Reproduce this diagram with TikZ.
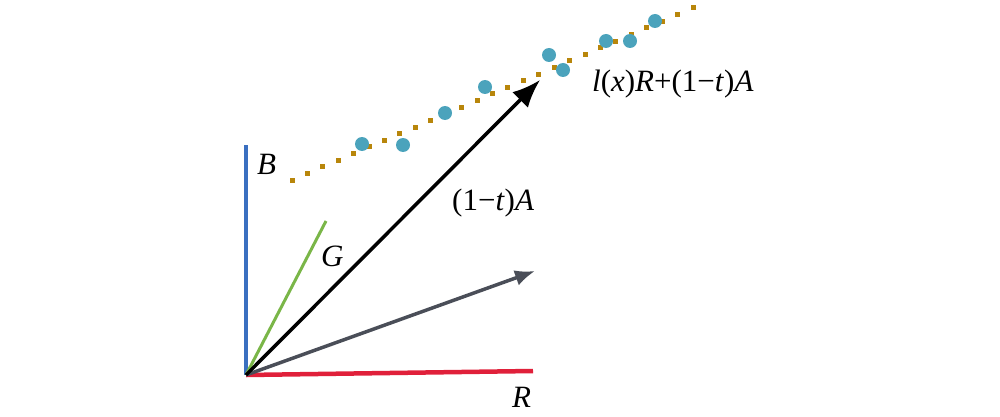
\documentclass[tikz,border=0pt]{standalone}
\usepackage{fontspec}
\setmainfont{Liberation Serif}
\usetikzlibrary{arrows.meta,calc}
\definecolor{bblue}{HTML}{3A6FC0}
\definecolor{rred}{HTML}{E0203A}
\definecolor{ggreen}{HTML}{7AB648}
\definecolor{ggray}{HTML}{4A4E58}
\definecolor{dbrown}{HTML}{B8860B}
\definecolor{tteal}{HTML}{4BA3BC}
\tikzset{
  lbl/.style={font=\fontsize{31}{34}\selectfont\itshape, inner sep=0pt},
  lblup/.style={font=\fontsize{31}{34}\selectfont, inner sep=0pt},
  axis/.style={line width=3.5pt},
  tealdot/.style={circle, fill=tteal, inner sep=0pt, minimum size=14pt},
  browndot/.style={rectangle, fill=dbrown, inner sep=0pt, minimum size=5pt}
}
\begin{document}
\begin{tikzpicture}[x=1pt,y=-1pt]
\useasboundingbox (0,0) rectangle (1000,417);
\coordinate (O) at (246,375);
\coordinate (Btop) at (246,145);
\coordinate (Rend) at (533,371);
\coordinate (Gend) at (326,221);
\coordinate (Aend) at (540,80);
\coordinate (Pend) at (535,271);
% dotted line
\coordinate (D0) at (292,180);
\coordinate (D1) at (693,8);
\foreach \i in {0,...,26} {
  \node[browndot] (d\i) at ($(D0)!\i/26!(D1)$) {};
}
% teal dots
\foreach \x/\y [count=\k] in {362/144,403/145,445/113,485/87,549/55,563/70,606/41,630/41,655/21} {
  \node[tealdot] (t\k) at (\x,\y) {};
}
\draw[axis, bblue] (O) -- (Btop);
\draw[line width=4.5pt, rred] (O) -- (Rend);
\draw[line width=3pt, ggreen] (O) -- (Gend);
\draw[line width=3.5pt, ggray, -{Latex[length=20pt,width=16pt]}] (O) -- (Pend);
\draw[line width=3.5pt, black, -{Latex[length=28pt,width=22pt]}] (O) -- (Aend);
\node[lbl, anchor=west] (lB) at (257,164) {B};
\node[lbl, anchor=west] (lG) at (321,256) {G};
\node[lbl, anchor=west] (lR) at (512,397) {R};
\node[lblup, anchor=west] (lA) at (452,203) {(1\textminus\textit{t})\textit{A}};
\node[lblup, anchor=west] (lL) at (592,84) {\textit{l}(\textit{x})\textit{R}+(1\textminus\textit{t})\textit{A}};
\end{tikzpicture}
\end{document}
